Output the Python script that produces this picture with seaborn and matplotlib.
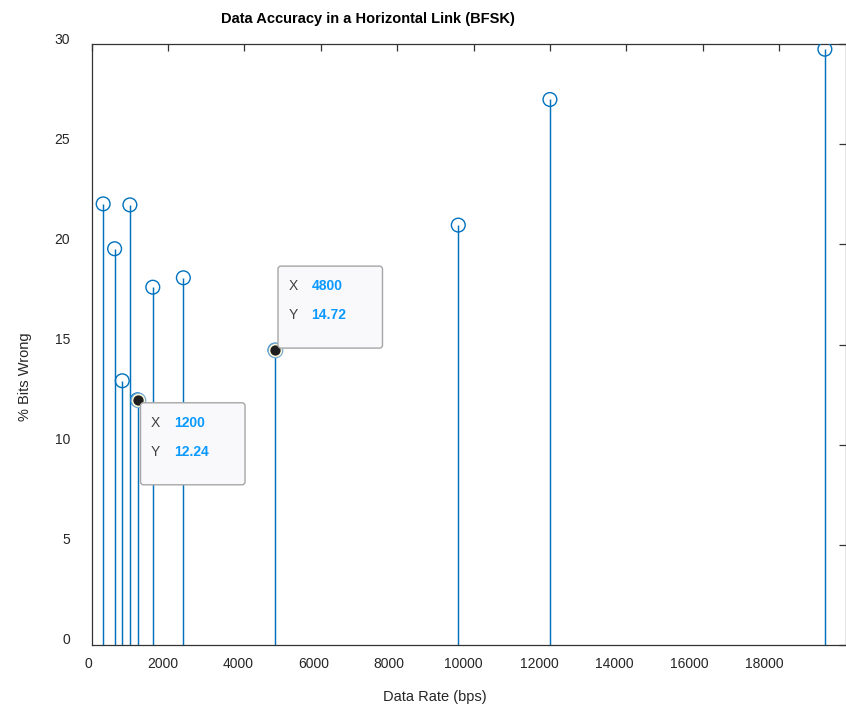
import numpy as np
import pandas as pd
import matplotlib
matplotlib.use("Agg")
import matplotlib.pyplot as plt
import matplotlib.transforms as mtransforms
from matplotlib.patches import FancyBboxPatch
import seaborn as sns

# ---- data ----
data_rate = [300, 600, 800, 1000, 1200, 1600, 2400, 4800, 9600, 12000, 19200]
bits_wrong = [22.02, 19.78, 13.19, 21.97, 12.24, 17.86, 18.33, 14.72, 20.96, 27.23, 29.74]
tip_rates = [1200, 4800]
tip_values = [12.24, 14.72]
x_ticks = [0, 2000, 4000, 6000, 8000, 10000, 12000, 14000, 16000, 18000]
y_ticks = [0, 5, 10, 15, 20, 25, 30]
title = "Data Accuracy in a Horizontal Link (BFSK)"
xlabel = "Data Rate (bps)"
ylabel = "% Bits Wrong"

df = pd.DataFrame({"rate": data_rate, "err": bits_wrong})

sns.set_style("white")
plt.rcParams["font.family"] = ["Liberation Sans", "DejaVu Sans"]

W, H, DPI = 846, 708, 100
fig = plt.figure(figsize=(W / DPI, H / DPI), dpi=DPI)
left_px, right_px, top_px, bot_px = 91.7, 845.5, 44.0, 645.0
ax = fig.add_axes([left_px / W, 1 - bot_px / H, (right_px - left_px) / W, (bot_px - top_px) / H])

stem_color = "#0072BD"
ax.vlines(df["rate"], 0, df["err"], color=stem_color, lw=1.05, zorder=2)
sns.scatterplot(data=df, x="rate", y="err", ax=ax, marker="o", s=98,
                facecolor="none", edgecolor=stem_color, linewidth=1.0, zorder=3)

ax.set_xlim(0, 19740)
ax.set_ylim(0, 30)
ax.set_xlabel("")
ax.set_ylabel("")

spine_c = "#333333"
for sp in ax.spines.values():
    sp.set_visible(True)
    sp.set_color(spine_c)
    sp.set_linewidth(0.9)

ax.set_xticks(x_ticks)
ax.set_xticklabels([str(v) for v in x_ticks])
ax.set_yticks(y_ticks)
ax.set_yticklabels([str(v) for v in y_ticks])
ax.tick_params(axis="both", direction="in", length=5, width=0.9, color=spine_c,
               top=True, right=True, labelsize=10, labelcolor="#262626")
ax.tick_params(axis="x", pad=8.5)
ax.tick_params(axis="y", pad=15.5)

# label offsets (as in the reference rendering)
for lbl, v in zip(ax.get_xticklabels(), x_ticks):
    dx = (-3.7 - 0.00061 * v) / DPI
    lbl.set_transform(lbl.get_transform() + mtransforms.ScaledTranslation(dx, 0, fig.dpi_scale_trans))
for lbl in ax.get_yticklabels():
    lbl.set_transform(lbl.get_transform() + mtransforms.ScaledTranslation(0, 6.0 / DPI, fig.dpi_scale_trans))

fig.text(367.7 / W, 1 - 22.7 / H, title, ha="center", va="baseline",
         fontsize=10.5, fontweight="bold", color="black")
fig.text(435 / W, 1 - 701.5 / H, xlabel, ha="center", va="baseline",
         fontsize=10.5, color="#262626")
fig.text(25.5 / W, 1 - 376.5 / H, ylabel, ha="center", va="center", rotation=90,
         fontsize=10.5, color="#262626")

# ---- data tips ----
ident = mtransforms.IdentityTransform()
box_w, box_h = 104.5, 82.0
placements = ["below", "above"]
for xr, yv, place in zip(tip_rates, tip_values, placements):
    px, py = ax.transData.transform((xr, yv))
    if place == "below":
        bl, top = px + 3, py - 3
    else:
        bl, top = px + 3, py + 2 + box_h
    bb = top - box_h
    box = FancyBboxPatch((bl, bb), box_w, box_h,
                         boxstyle="round,pad=0,rounding_size=3",
                         transform=ident, fc="#f9f9fc", ec="#a6a6a6", lw=1.0, zorder=5)
    fig.add_artist(box)
    for i, (k, val) in enumerate([("X", f"{xr}"), ("Y", f"{yv:.2f}")]):
        cy = top - (20.0 if i == 0 else 49.2)
        fig.text(bl + 10.6, cy, k, transform=ident, ha="left", va="center",
                 fontsize=10, color="#404040", zorder=6)
        fig.text(bl + 33.5, cy, val, transform=ident, ha="left", va="center",
                 fontsize=10, fontweight="bold", color="#0a99ff", zorder=6)
    ax.plot([xr], [yv], marker="o", ms=10.5, mfc="#fdf8d8", mec="#6fa8d4", mew=0.8,
            zorder=7, clip_on=False)
    ax.plot([xr], [yv], marker="o", ms=7.4, mfc="#1e1e1e", mec="none", zorder=8,
            clip_on=False)

fig.savefig("out.png", dpi=DPI)
